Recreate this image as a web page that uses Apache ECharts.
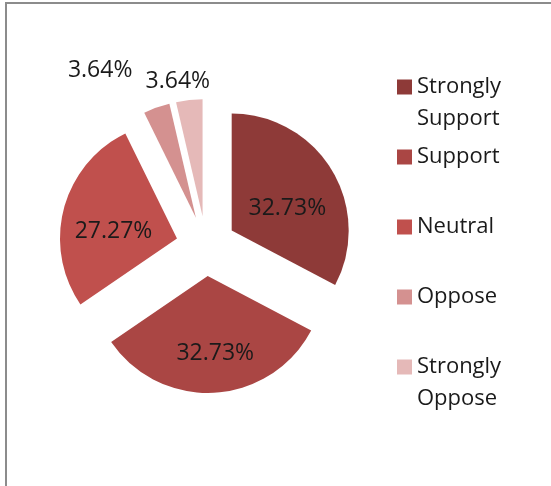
<!DOCTYPE html>
<html>
<head>
<meta charset="utf-8">
<script src="https://cdn.jsdelivr.net/npm/echarts@6/dist/echarts.min.js"></script>
<style>
  html, body { margin: 0; padding: 0; background: #fff; }
  #chart { width: 551px; height: 486px; }
</style>
</head>
<body>
<div id="chart"></div>
<script>
// Survey responses (percent of respondents)
const categories = ['Strongly Support', 'Support', 'Neutral', 'Oppose', 'Strongly Oppose'];
const legendLines = [['Strongly', 'Support'], ['Support'], ['Neutral'], ['Oppose'], ['Strongly', 'Oppose']];
const percents = [32.73, 32.73, 27.27, 3.64, 3.64];
const colors = ['#8e3a38', '#aa4644', '#c0504d', '#d49190', '#e5b9b8'];

const FONT = '"Open Sans", Lato, sans-serif';
const LH = 32;

// fine offsets for the label of each slice
const labelNudge = [[3, 10], [4, 16], [-4, 9], [14, -46], [27, -9]];

const chart = echarts.init(document.getElementById('chart'), null, { renderer: 'canvas' });

const pieData = categories.map((name, i) => ({
  name: name,
  value: percents[i],
  selected: true,
  itemStyle: { color: colors[i] },
  label: { position: percents[i] < 10 ? 'outside' : 'inside' }
}));

// Every legend entry is laid out as three text rows with the first
// wrapped line in the middle row, so it sits level with its swatch.
function legendText(name) {
  const lines = legendLines[categories.indexOf(name)];
  return [' ', lines[0], lines[1] || ' '].join('\n');
}

chart.setOption({
  animation: false,
  backgroundColor: '#ffffff',
  graphic: [
    {
      type: 'polyline',
      shape: { points: [[6, 486], [6, 3], [551, 3]] },
      style: { stroke: '#8c8c8c', lineWidth: 2, fill: null },
      silent: true
    }
  ],
  legend: {
    orient: 'vertical',
    left: 397,
    top: 87 - 1.5 * LH,
    padding: 0,
    itemWidth: 15,
    itemHeight: 15,
    itemGap: 70 - 3 * LH,
    icon: 'rect',
    selectedMode: false,
    data: categories,
    formatter: legendText,
    textStyle: {
      fontFamily: FONT,
      fontSize: 22,
      lineHeight: LH,
      color: '#1a1a1a'
    }
  },
  series: [{
    type: 'pie',
    center: [206, 246],
    radius: 117,
    startAngle: 90,
    clockwise: true,
    selectedMode: 'multiple',
    selectedOffset: 30,
    data: pieData,
    label: {
      show: true,
      fontFamily: FONT,
      fontSize: 23,
      color: '#1a1a1a',
      formatter: p => p.value.toFixed(2) + '%'
    },
    labelLine: { show: false, length: 10, length2: 0 },
    labelLayout: p => ({ dx: labelNudge[p.dataIndex][0], dy: labelNudge[p.dataIndex][1] }),
    emphasis: { disabled: true },
    itemStyle: { borderWidth: 0 }
  }]
});
</script>
</body>
</html>
